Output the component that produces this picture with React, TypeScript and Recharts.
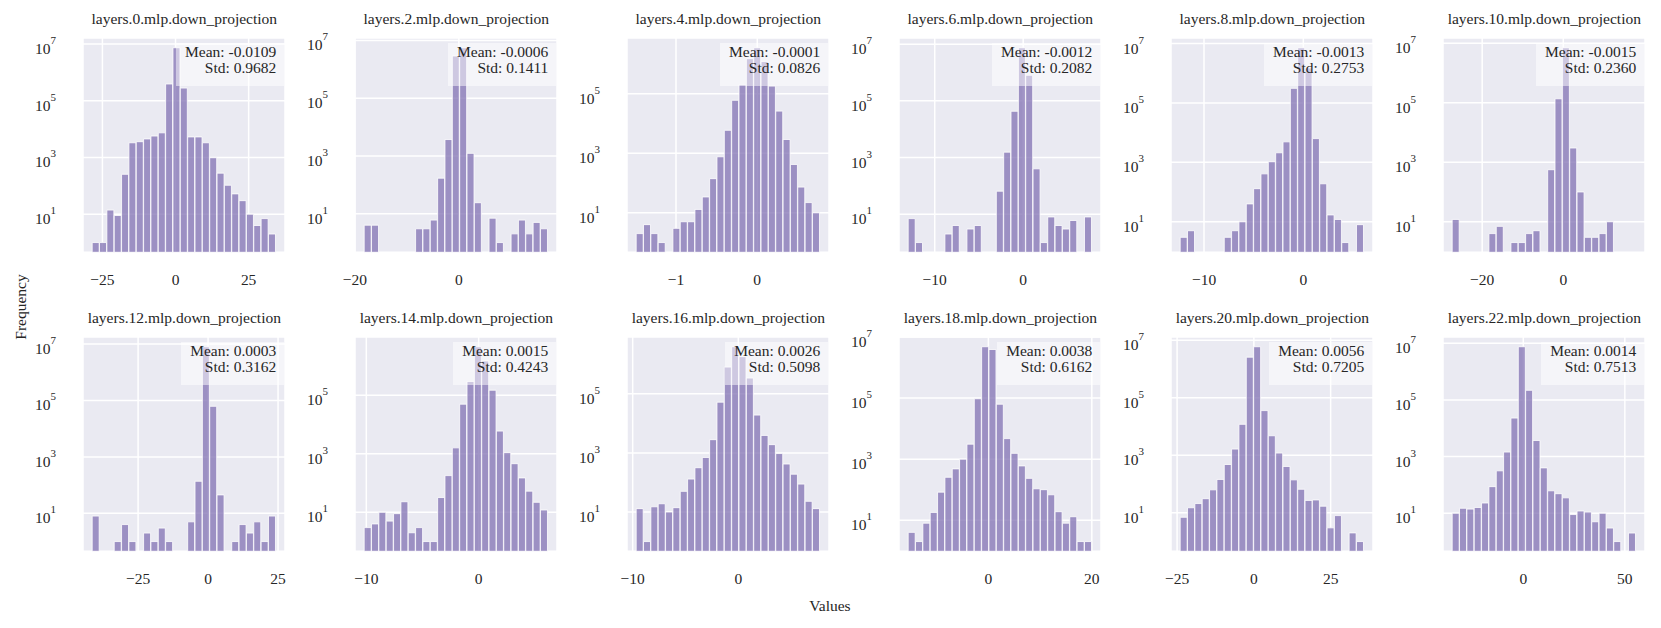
import { Bar, BarChart, CartesianGrid, XAxis, YAxis } from "recharts";

// layer index of each panel, in reading order
const LAYERS = [0, 2, 4, 6, 8, 10, 12, 14, 16, 18, 20, 22];
const MEANS = [-0.0109, -0.0006, -0.0001, -0.0012, -0.0013, -0.0015, 0.0003, 0.0015, 0.0026, 0.0038, 0.0056, 0.0014];
const STDS = [0.9682, 0.1411, 0.0826, 0.2082, 0.2753, 0.236, 0.3162, 0.4243, 0.5098, 0.6162, 0.7205, 0.7513];

// histogram range (first bin left edge, last bin right edge) per panel
const BIN_START = [-28.5, -18.2, -1.49, -13.0, -12.4, -27.4, -41.4, -10.19, -9.67, -15.5, -24.0, -35.0];
const BIN_END = [34.3, 17.1, 0.77, 7.76, 6.09, 17.9, 24.2, 6.16, 7.72, 20.0, 35.8, 55.4];

const X_TICKS = [
  [-25, 0, 25], [-20, 0], [-1, 0], [-10, 0], [-10, 0], [-20, 0],
  [-25, 0, 25], [-10, 0], [-10, 0], [0, 20], [-25, 0, 25], [0, 50],
];
const Y_TICKS = [10, 1e3, 1e5, 1e7];

// counts per bin (25 bins each)
const COUNTS_L0 = [1, 1, 14, 9, 255, 3300, 3600, 4500, 5700, 7400, 390000, 7400000, 280000, 5300, 5300, 3300, 980, 280, 105, 52, 30, 10, 4, 7, 2];
const COUNTS_L2 = [4, 4, 0, 0, 0, 0, 0, 3, 3, 6, 170, 3700, 2900000, 5600000, 1230, 24, 0, 7, 1, 0, 2, 6, 2, 5, 3];
const COUNTS_L4 = [2, 4, 2, 1, 0, 3, 5, 5, 13, 34, 140, 760, 5900, 60000, 200000, 1500000, 3500000, 1200000, 180000, 26000, 2900, 420, 73, 22, 10];
const COUNTS_L6 = [7, 1, 0, 0, 0, 2, 4, 0, 3, 4, 0, 0, 65, 1550, 43000, 7500000, 800000, 400, 1, 8, 4, 3, 6, 0, 8];
const COUNTS_L8 = [3, 5, 0, 0, 0, 0, 3, 5, 10, 40, 130, 410, 1050, 2100, 4900, 310000, 7200000, 1500000, 6300, 190, 17, 12, 2, 0, 8];
const COUNTS_L10 = [12, 0, 0, 0, 0, 4, 7, 0, 2, 2, 4, 5, 0, 560, 135000, 7000000, 3000, 100, 3, 3, 4, 10, 0, 0, 0];
const COUNTS_L12 = [8, 0, 0, 1, 4, 1, 0, 2, 1, 3, 1, 0, 0, 5, 137, 8000000, 62000, 45, 0, 1, 4, 2, 5, 1, 8];
const COUNTS_L14 = [3, 4, 10, 5, 9, 23, 2, 3, 1, 1, 32, 180, 1600, 50000, 300000, 4600000, 1500000, 150000, 6000, 1100, 460, 150, 53, 22, 12];
const COUNTS_L16 = [13, 1, 15, 19, 10, 14, 50, 130, 315, 700, 2800, 52000, 800000, 3900000, 1800000, 340000, 19000, 3900, 1900, 950, 420, 190, 88, 23, 13];
const COUNTS_L18 = [4, 2, 8, 18, 83, 255, 480, 1000, 3100, 95000, 4800000, 3900000, 63000, 4700, 1550, 600, 235, 107, 100, 68, 19, 8, 13, 2, 2];
const COUNTS_L20 = [7, 15, 21, 31, 63, 145, 480, 1650, 12000, 2600000, 6000000, 36000, 4800, 1200, 410, 140, 66, 27, 28, 17, 3, 8, 0, 2, 1];
const COUNTS_L22 = [10, 15, 14, 16, 23, 87, 315, 1450, 23000, 7600000, 220000, 3700, 400, 62, 49, 35, 9, 12, 11, 5, 10, 3, 1, 0, 2];

const COUNTS = [
  COUNTS_L0, COUNTS_L2, COUNTS_L4, COUNTS_L6, COUNTS_L8, COUNTS_L10,
  COUNTS_L12, COUNTS_L14, COUNTS_L16, COUNTS_L18, COUNTS_L20, COUNTS_L22,
];

const FONT = '"Liberation Serif", "Times New Roman", serif';
const INK = "#262626";
const FS = 15.5;

const PLOT_W = 202;
const PLOT_H = 214.3;
const COL_X0 = 83.3;
const COL_STEP = 272;
const ROW_Y = [37.7, 336.7];

const M_LEFT = 60;
const M_TOP = 10;
const X_AXIS_H = 45;

const fmtNum = (v: number) => (v < 0 ? `\u2212${Math.abs(v)}` : `${v}`);
const fmtStat = (v: number) => v.toFixed(4);

function XTick(props: any) {
  const { x, payload } = props;
  return (
    <text x={x} y={M_TOP + PLOT_H + 33} textAnchor="middle" fontFamily={FONT} fontSize={FS} fill={INK}>
      {fmtNum(payload.value)}
    </text>
  );
}

function YTick(props: any) {
  const { y, payload } = props;
  const exp = Math.round(Math.log10(payload.value));
  return (
    <text x={M_LEFT - 27} y={y} textAnchor="end" fontFamily={FONT} fontSize={FS} fill={INK}>
      <tspan dy={10}>10</tspan>
      <tspan dy={-10} fontSize={11}>{exp}</tspan>
    </text>
  );
}

function Panel({ i }: { i: number }) {
  const counts = COUNTS[i];
  const n = counts.length;
  const start = BIN_START[i];
  const end = BIN_END[i];
  const w = (end - start) / n;
  const data = counts
    .map((c, k) => ({ x: start + (k + 0.5) * w, count: c }))
    .filter((d) => d.count > 0);

  const span = end - start;
  const xDomain = [start - 0.05 * span, end + 0.05 * span];

  const pos = counts.filter((c) => c > 0);
  const lmin = Math.log10(Math.min(...pos));
  const lmax = Math.log10(Math.max(...pos));
  const pad = 0.05 * (lmax - lmin);
  const yDomain = [Math.pow(10, lmin - pad), Math.pow(10, lmax + pad)];
  const yTicks = Y_TICKS.filter((t) => t >= yDomain[0] && t <= yDomain[1]);

  const col = i % 6;
  const row = Math.floor(i / 6);
  const plotLeft = COL_X0 + COL_STEP * col;
  const plotTop = ROW_Y[row];

  return (
    <>
      <div style={{ position: "absolute", left: plotLeft - M_LEFT, top: plotTop - M_TOP }}>
        <BarChart
          width={M_LEFT + PLOT_W + 4}
          height={M_TOP + PLOT_H + X_AXIS_H}
          data={data}
          margin={{ top: M_TOP, right: 4, left: 0, bottom: 0 }}
          barCategoryGap={0}
          barGap={0}
        >
          <CartesianGrid fill="#EAEAF2" stroke="#ffffff" strokeWidth={1.5} />
          <XAxis
            type="number"
            dataKey="x"
            domain={xDomain}
            ticks={X_TICKS[i]}
            allowDataOverflow
            interval={0}
            height={X_AXIS_H}
            axisLine={false}
            tickLine={false}
            tick={<XTick />}
          />
          <YAxis
            type="number"
            scale="log"
            domain={yDomain}
            ticks={yTicks}
            allowDataOverflow
            interval={0}
            width={M_LEFT}
            axisLine={false}
            tickLine={false}
            tick={<YTick />}
          />
          <Bar
            dataKey="count"
            fill="#8172B3"
            fillOpacity={0.75}
            stroke="#ffffff"
            strokeWidth={0.8}
            isAnimationActive={false}
          />
        </BarChart>
      </div>
      {/* stats box, drawn over the bars like the semi-transparent text bbox */}
      <div
        style={{
          position: "absolute",
          right: 1661 - (plotLeft + PLOT_W - 1),
          top: plotTop + 5,
          padding: "1px 8px 9px 9px",
          background: "rgba(255,255,255,0.5)",
          fontFamily: FONT,
          fontSize: FS,
          lineHeight: "16.7px",
          color: INK,
          textAlign: "right",
          whiteSpace: "nowrap",
        }}
      >
        <div>Mean: {fmtStat(MEANS[i])}</div>
        <div>Std: {fmtStat(STDS[i])}</div>
      </div>
    </>
  );
}

export default function App() {
  return (
    <div
      style={{
        position: "absolute",
        left: 0,
        top: 0,
        width: 1661,
        height: 628,
        background: "#ffffff",
        overflow: "hidden",
      }}
    >
      {LAYERS.map((_, i) => (
        <Panel key={i} i={i} />
      ))}
      <svg
        width={1661}
        height={628}
        style={{ position: "absolute", left: 0, top: 0, pointerEvents: "none" }}
        fontFamily={FONT}
        fontSize={FS}
        fill={INK}
      >
        {LAYERS.map((layer, i) => (
          <text
            key={layer}
            x={COL_X0 + COL_STEP * (i % 6) + PLOT_W / 2}
            y={ROW_Y[Math.floor(i / 6)] - 13.5}
            textAnchor="middle"
          >
            {`layers.${layer}.mlp.down_projection`}
          </text>
        ))}
        <text x={830} y={611} textAnchor="middle">
          Values
        </text>
        <text x={26} y={307} textAnchor="middle" transform="rotate(-90 26 307)">
          Frequency
        </text>
      </svg>
    </div>
  );
}
